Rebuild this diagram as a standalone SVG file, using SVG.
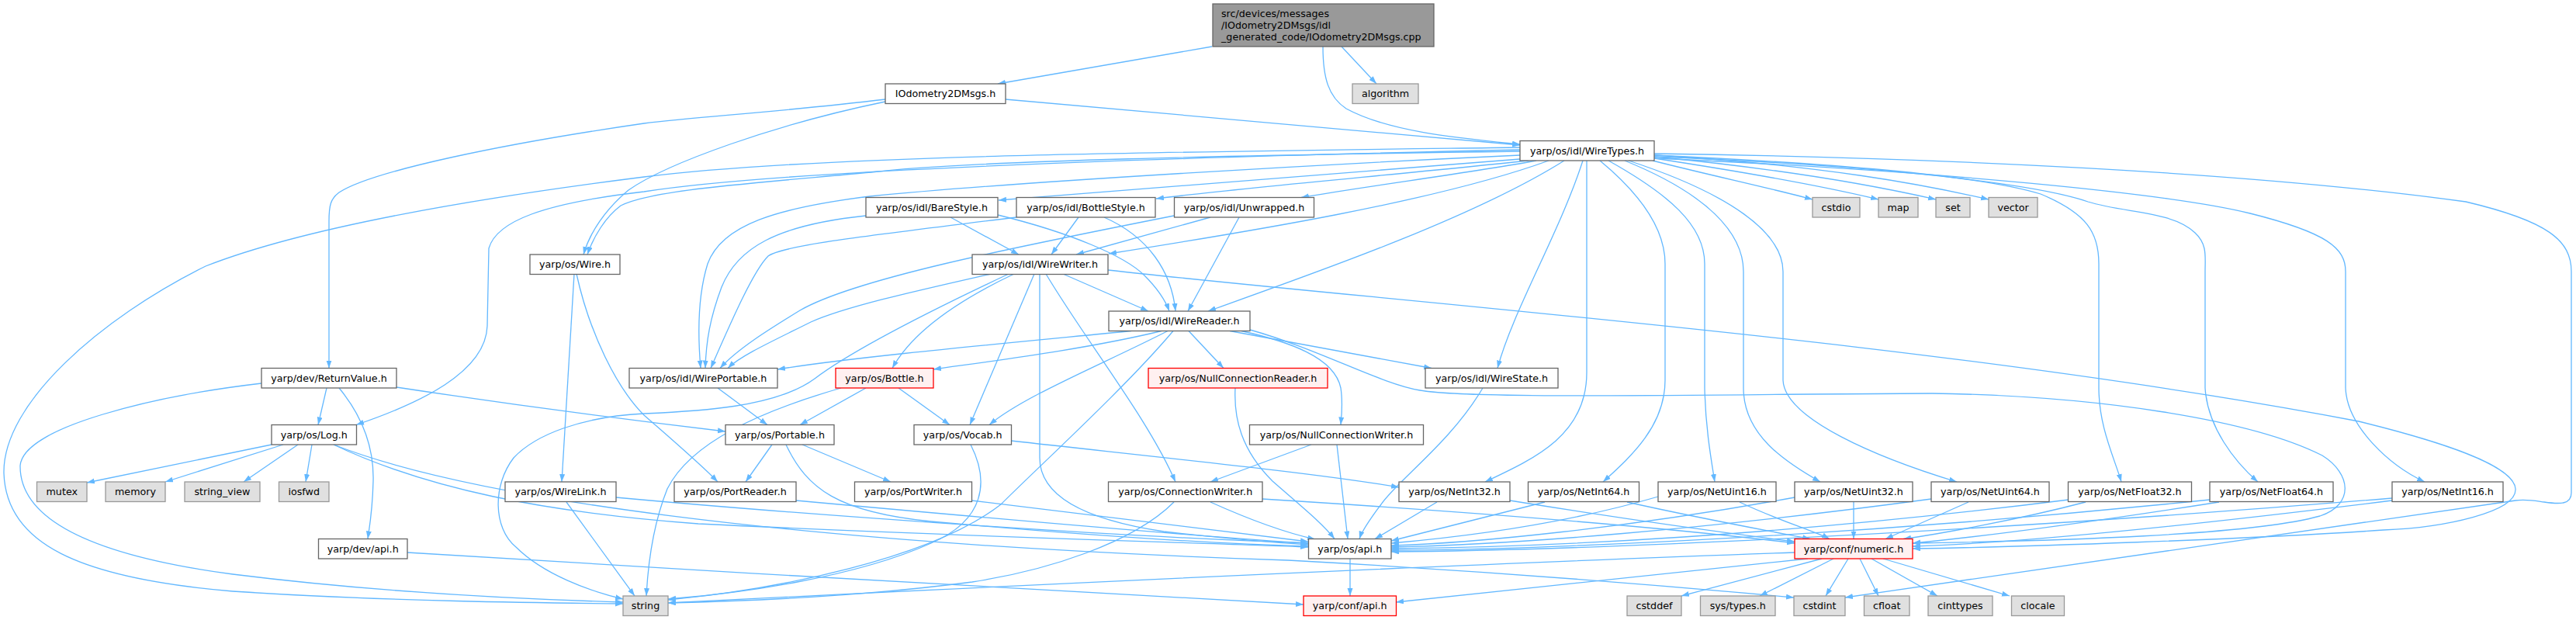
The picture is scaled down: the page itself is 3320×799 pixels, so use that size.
<svg xmlns="http://www.w3.org/2000/svg" width="3320" height="799" viewBox="0 0 3320 799">
<defs>
<style>
.e{fill:none;stroke:#63b8ff;stroke-width:1.3}
rect{stroke-width:1.3}
.n rect{fill:#ffffff;stroke:#666666}
.x rect{fill:#e0e0e0;stroke:#999999}
.r rect{fill:#fff0f0;stroke:#ff0000}
.m rect{fill:#999999;stroke:#666666}
text{font-family:"DejaVu Sans","Liberation Sans",sans-serif;font-size:12.7px;fill:#000000;text-anchor:middle}
.m text{text-anchor:start}
</style>
<marker id="a" markerUnits="userSpaceOnUse" markerWidth="11" markerHeight="8" refX="10" refY="3.5" orient="auto">
<path d="M0,0 L10,3.5 L0,7 z" fill="#63b8ff"/>
</marker>
</defs>
<rect width="3320" height="799" fill="#ffffff"/>
<g id="connectors" marker-end="url(#a)">
<path class="e" d="M1562,60 L1286,108"/>
<path class="e" d="M1729,60 L1774,108"/>
<path class="e" d="M1705,60 C1705,100 1712,125 1735,140 C1790,170 1880,178 1959,186"/>
<path class="e" d="M1296,128 L1959,187"/>
<path class="e" d="M1141,128 C1000,145 900,150 830,159 C650,185 480,220 437,248 C426,256 424,265 424,285 L424,474.5"/>
<path class="e" d="M1141,131 C1000,160 860,210 810,245 C780,270 760,300 752,328"/>
<path class="e" d="M1959,195 C1600,200 1250,207 1123,222 C950,238 840,245 800,265 C780,280 765,305 757,328"/>
<path class="e" d="M1959,190 C1500,196 1050,200 830,228 C640,252 400,290 265,343 C130,410 3,520 5,610 C8,700 100,745 300,762 C500,775 700,777 803,778"/>
<path class="e" d="M1959,193 C1500,203 1000,220 830,247 C700,262 640,285 630,320 L628,420 C626,480 540,520 459,547.5"/>
<path class="e" d="M1959,200 C1700,212 1300,235 1121,253 C1000,268 930,290 912,340 C898,385 900,440 903,474.5"/>
<path class="e" d="M1959,205 C1700,225 1450,245 1287,258"/>
<path class="e" d="M1970,207 C1800,225 1600,242 1490,256"/>
<path class="e" d="M1980,207 C1900,222 1760,240 1677,254.5"/>
<path class="e" d="M1996,207 C1850,260 1600,300 1429,327"/>
<path class="e" d="M2016,207 C1900,280 1700,350 1557,401"/>
<path class="e" d="M2040,207 C2010,300 1950,400 1930,474.5"/>
<path class="e" d="M2045,207 L2045,480 C2045,560 1980,590 1914,621"/>
<path class="e" d="M2062,207 C2120,255 2146,300 2146,340 L2146,490 C2146,550 2100,590 2066,621"/>
<path class="e" d="M2073,207 C2150,250 2197,290 2197,340 L2197,500 C2198,550 2205,590 2210,621"/>
<path class="e" d="M2094,207 C2200,250 2247,300 2247,350 L2247,500 C2247,560 2300,595 2346,621"/>
<path class="e" d="M2099,207 C2230,250 2298,300 2298,350 L2298,490 C2300,540 2420,590 2522,621"/>
<path class="e" d="M2132,200 C2350,210 2550,225 2630,250 C2690,275 2705,300 2705,340 L2705,500 C2705,550 2725,590 2734,621"/>
<path class="e" d="M2132,202 C2400,212 2620,235 2691,260 C2740,275 2800,272 2829,300 C2845,315 2842,330 2842,350 L2842,500 C2845,550 2880,595 2910,621"/>
<path class="e" d="M2132,204 C2500,220 2800,250 2900,275 C3000,300 3023,320 3023,350 L3023,500 C3025,550 3080,600 3125,621"/>
<path class="e" d="M2132,198 C2500,203 2900,222 3178,260 C3284,285 3314,310 3314,350 L3314,635 C3314,650 3300,650 3279,647 C3265,645 3255,643 3242,645 L2378,770"/>
<path class="e" d="M2130,207 C2200,225 2280,242 2336,257"/>
<path class="e" d="M2132,204 C2250,222 2350,240 2421,257"/>
<path class="e" d="M2132,202 C2300,218 2420,240 2495,257"/>
<path class="e" d="M2132,200 C2350,213 2480,238 2563,257"/>
<path class="e" d="M1225,280 L1313,328"/>
<path class="e" d="M1286,277 C1380,300 1450,330 1475,355 C1495,375 1503,390 1507,401"/>
<path class="e" d="M1116,278 C1000,290 950,320 930,370 C915,410 910,440 909,474.5"/>
<path class="e" d="M1390,280 L1355,328"/>
<path class="e" d="M1423,280 C1480,305 1510,350 1515,401"/>
<path class="e" d="M1310,280 C1150,300 1010,315 990,330 C970,350 940,420 916,474.5"/>
<path class="e" d="M1560,280 L1387,328"/>
<path class="e" d="M1597,280 L1531,401"/>
<path class="e" d="M1513,278 C1300,320 1100,360 1031,400 C990,425 950,450 928,474.5"/>
<path class="e" d="M740,353 L724,621"/>
<path class="e" d="M743,353 C760,430 795,500 830,535 C870,570 905,600 925,621"/>
<path class="e" d="M1277,353 C1180,375 1090,395 1045,415 C995,440 955,458 938,474.5"/>
<path class="e" d="M1300,353 C1200,400 1100,450 1050,488 C1000,525 900,530 830,533 C750,537 690,560 662,590 C635,625 635,680 665,705 C700,740 760,762 803,772"/>
<path class="e" d="M1307,353 C1250,380 1180,420 1150,474.5"/>
<path class="e" d="M1333,353 L1250,547.5"/>
<path class="e" d="M1340,353 L1340,590 C1340,640 1400,670 1500,685 C1580,694 1640,699 1686,702"/>
<path class="e" d="M1348,353 C1400,440 1480,540 1515,621"/>
<path class="e" d="M1370,353 L1480,401"/>
<path class="e" d="M1428,348 C1800,390 2500,440 3040,543 C3150,570 3240,600 3242,630 C3244,660 3150,680 3072,683 C2900,695 2600,705 2465,707"/>
<path class="e" d="M1458,426.5 C1300,442 1100,460 1002,476"/>
<path class="e" d="M1497,426.5 C1400,450 1280,465 1203,476"/>
<path class="e" d="M1505,426.5 C1420,470 1320,510 1275,547.5"/>
<path class="e" d="M1512,426.5 C1450,500 1340,600 1290,650 C1200,720 1000,760 861,773"/>
<path class="e" d="M1532,426.5 L1577,474.5"/>
<path class="e" d="M1585,426.5 L1845,474.5"/>
<path class="e" d="M1600,426.5 C1660,440 1720,460 1728,500 C1731,520 1729,535 1728,547.5"/>
<path class="e" d="M1611,425 C1700,450 1780,495 1830,503 C1900,515 2200,508 2490,507 C2700,510 2900,540 2993,587 C3030,610 3035,650 2990,665 C2900,690 2650,697 2465,700"/>
<path class="e" d="M421,500 L410,547.5"/>
<path class="e" d="M437,500 C470,540 482,580 481,620 C480,660 476,680 474,694.5"/>
<path class="e" d="M337,494 C200,510 30,550 26,600 C25,680 150,720 300,740 C500,765 700,773 803,776"/>
<path class="e" d="M511,499 C650,520 800,540 935,556"/>
<path class="e" d="M350,573 L112,622"/>
<path class="e" d="M365,573 L213,621"/>
<path class="e" d="M384,573 L314,621"/>
<path class="e" d="M402,573 L394,621"/>
<path class="e" d="M430,573 C550,630 700,660 900,675 C1200,690 1500,698 1686,705"/>
<path class="e" d="M430,573 C600,640 1000,700 1660,722 C1900,735 2150,755 2312,770"/>
<path class="e" d="M925,500 L989,547.5"/>
<path class="e" d="M1116,500 L1031,547.5"/>
<path class="e" d="M1158,500 L1224,547.5"/>
<path class="e" d="M1084,500 C980,530 890,570 860,630 C840,680 835,730 833,768"/>
<path class="e" d="M1592,500 C1590,540 1600,580 1640,620 C1680,655 1705,675 1720,694.5"/>
<path class="e" d="M1911,500 C1870,570 1800,620 1780,650 C1765,670 1755,685 1752,694.5"/>
<path class="e" d="M995,573 L961,621"/>
<path class="e" d="M1034,573 L1148,621"/>
<path class="e" d="M1013,573 C1040,630 1080,660 1200,672 C1400,690 1550,700 1686,704"/>
<path class="e" d="M1251,573 C1275,620 1270,670 1200,700 C1100,745 950,765 861,772"/>
<path class="e" d="M1303,568 C1500,590 1700,610 1803,628"/>
<path class="e" d="M1690,573 L1560,621"/>
<path class="e" d="M1723,573 L1737,694.5"/>
<path class="e" d="M730,647 L818,768"/>
<path class="e" d="M794,641 C1000,660 1400,690 1686,700"/>
<path class="e" d="M1026,645 C1300,670 1550,692 1686,700"/>
<path class="e" d="M1252,645 L1686,698"/>
<path class="e" d="M1513,647 C1460,700 1350,735 1253,750 C1100,770 950,775 861,777"/>
<path class="e" d="M1560,647 C1600,665 1650,685 1695,695"/>
<path class="e" d="M1627,643 C1900,660 2150,680 2313,700"/>
<path class="e" d="M1852,647 L1772,694.5"/>
<path class="e" d="M1946,645 C2100,670 2250,690 2313,698"/>
<path class="e" d="M1991,647 C1900,670 1830,688 1793,697"/>
<path class="e" d="M2097,647 C2200,670 2300,688 2333,694.5"/>
<path class="e" d="M2137,640 C2000,680 1850,695 1793,700"/>
<path class="e" d="M2242,647 C2290,670 2340,685 2358,694.5"/>
<path class="e" d="M2313,641 C2100,680 1900,700 1793,703"/>
<path class="e" d="M2389,647 L2389,694.5"/>
<path class="e" d="M2489,643 C2200,682 1950,702 1793,705"/>
<path class="e" d="M2537,647 L2430,694.5"/>
<path class="e" d="M2666,644 C2300,690 2000,705 1793,707"/>
<path class="e" d="M2688,647 C2600,670 2500,688 2453,694.5"/>
<path class="e" d="M2848,644 C2400,690 2000,708 1793,709"/>
<path class="e" d="M2860,647 C2700,672 2550,692 2465,700"/>
<path class="e" d="M3083,642 C2500,690 2000,710 1793,711"/>
<path class="e" d="M3083,645 C2800,680 2600,700 2465,704"/>
<path class="e" d="M1740,720 L1740,768"/>
<path class="e" d="M525,712 C900,735 1400,765 1680,779"/>
<path class="e" d="M2313,712 C1800,730 1200,760 861,777"/>
<path class="e" d="M2330,720 C2100,745 1900,765 1799,776"/>
<path class="e" d="M2348,720 L2167,768"/>
<path class="e" d="M2363,720 L2268,768"/>
<path class="e" d="M2382,720 L2353,768"/>
<path class="e" d="M2397,720 L2421,768"/>
<path class="e" d="M2412,720 L2497,768"/>
<path class="e" d="M2427,720 L2590,768"/>
</g>
<g id="main" class="m"><rect x="1563" y="5" width="285" height="55"/><text x="1574" y="21.5">src/devices/messages</text><text x="1574" y="36.5">/IOdometry2DMsgs/idl</text><text x="1574" y="51.5">_generated_code/IOdometry2DMsgs.cpp</text></g>
<g id="iodo" class="n"><rect x="1141" y="108" width="155" height="25.5"/><text x="1218.5" y="125.2">IOdometry2DMsgs.h</text></g>
<g id="algorithm" class="x"><rect x="1743" y="108" width="85" height="25.5"/><text x="1785.5" y="125.2">algorithm</text></g>
<g id="wiretypes" class="n"><rect x="1959" y="181.5" width="173" height="25.5"/><text x="2045.5" y="198.7">yarp/os/idl/WireTypes.h</text></g>
<g id="barestyle" class="n"><rect x="1116" y="254.5" width="170" height="25.5"/><text x="1201" y="271.7">yarp/os/idl/BareStyle.h</text></g>
<g id="bottlestyle" class="n"><rect x="1310" y="254.5" width="179" height="25.5"/><text x="1399.5" y="271.7">yarp/os/idl/BottleStyle.h</text></g>
<g id="unwrapped" class="n"><rect x="1513.5" y="254.5" width="180" height="25.5"/><text x="1603.5" y="271.7">yarp/os/idl/Unwrapped.h</text></g>
<g id="cstdio" class="x"><rect x="2336" y="254.5" width="61" height="25.5"/><text x="2366.5" y="271.7">cstdio</text></g>
<g id="map" class="x"><rect x="2421" y="254.5" width="51" height="25.5"/><text x="2446.5" y="271.7">map</text></g>
<g id="set" class="x"><rect x="2495" y="254.5" width="44" height="25.5"/><text x="2517" y="271.7">set</text></g>
<g id="vector" class="x"><rect x="2563" y="254.5" width="63" height="25.5"/><text x="2594.5" y="271.7">vector</text></g>
<g id="wire" class="n"><rect x="683" y="328" width="116" height="25.5"/><text x="741" y="345.2">yarp/os/Wire.h</text></g>
<g id="wirewriter" class="n"><rect x="1253" y="328" width="175" height="25.5"/><text x="1340.5" y="345.2">yarp/os/idl/WireWriter.h</text></g>
<g id="wirereader" class="n"><rect x="1429" y="401" width="182" height="25.5"/><text x="1520" y="418.2">yarp/os/idl/WireReader.h</text></g>
<g id="returnvalue" class="n"><rect x="337" y="474.5" width="174" height="25.5"/><text x="424" y="491.7">yarp/dev/ReturnValue.h</text></g>
<g id="wireportable" class="n"><rect x="811" y="474.5" width="191" height="25.5"/><text x="906.5" y="491.7">yarp/os/idl/WirePortable.h</text></g>
<g id="bottle" class="r"><rect x="1077" y="474.5" width="126" height="25.5"/><text x="1140" y="491.7">yarp/os/Bottle.h</text></g>
<g id="nullconnectionreader" class="r"><rect x="1480" y="474.5" width="231" height="25.5"/><text x="1595.5" y="491.7">yarp/os/NullConnectionReader.h</text></g>
<g id="wirestate" class="n"><rect x="1837" y="474.5" width="171" height="25.5"/><text x="1922.5" y="491.7">yarp/os/idl/WireState.h</text></g>
<g id="log" class="n"><rect x="350" y="547.5" width="109.5" height="25.5"/><text x="404.75" y="564.7">yarp/os/Log.h</text></g>
<g id="portable" class="n"><rect x="935" y="547.5" width="140" height="25.5"/><text x="1005" y="564.7">yarp/os/Portable.h</text></g>
<g id="vocab" class="n"><rect x="1178" y="547.5" width="125.5" height="25.5"/><text x="1240.75" y="564.7">yarp/os/Vocab.h</text></g>
<g id="nullconnectionwriter" class="n"><rect x="1610.5" y="547.5" width="224" height="25.5"/><text x="1722.5" y="564.7">yarp/os/NullConnectionWriter.h</text></g>
<g id="mutex" class="x"><rect x="47.5" y="621" width="64.5" height="25.5"/><text x="79.75" y="638.2">mutex</text></g>
<g id="memory" class="x"><rect x="136" y="621" width="77" height="25.5"/><text x="174.5" y="638.2">memory</text></g>
<g id="string_view" class="x"><rect x="238" y="621" width="97" height="25.5"/><text x="286.5" y="638.2">string_view</text></g>
<g id="iosfwd" class="x"><rect x="359.5" y="621" width="64.5" height="25.5"/><text x="391.75" y="638.2">iosfwd</text></g>
<g id="wirelink" class="n"><rect x="651" y="621" width="143" height="25.5"/><text x="722.5" y="638.2">yarp/os/WireLink.h</text></g>
<g id="portreader" class="n"><rect x="869" y="621" width="157" height="25.5"/><text x="947.5" y="638.2">yarp/os/PortReader.h</text></g>
<g id="portwriter" class="n"><rect x="1101.5" y="621" width="151" height="25.5"/><text x="1177" y="638.2">yarp/os/PortWriter.h</text></g>
<g id="connectionwriter" class="n"><rect x="1428.5" y="621" width="198.5" height="25.5"/><text x="1527.75" y="638.2">yarp/os/ConnectionWriter.h</text></g>
<g id="netint32" class="n"><rect x="1803" y="621" width="143" height="25.5"/><text x="1874.5" y="638.2">yarp/os/NetInt32.h</text></g>
<g id="netint64" class="n"><rect x="1969.5" y="621" width="143" height="25.5"/><text x="2041" y="638.2">yarp/os/NetInt64.h</text></g>
<g id="netuint16" class="n"><rect x="2137" y="621" width="152" height="25.5"/><text x="2213" y="638.2">yarp/os/NetUint16.h</text></g>
<g id="netuint32" class="n"><rect x="2313" y="621" width="152" height="25.5"/><text x="2389" y="638.2">yarp/os/NetUint32.h</text></g>
<g id="netuint64" class="n"><rect x="2489" y="621" width="152" height="25.5"/><text x="2565" y="638.2">yarp/os/NetUint64.h</text></g>
<g id="netfloat32" class="n"><rect x="2665.5" y="621" width="159" height="25.5"/><text x="2745" y="638.2">yarp/os/NetFloat32.h</text></g>
<g id="netfloat64" class="n"><rect x="2848" y="621" width="159" height="25.5"/><text x="2927.5" y="638.2">yarp/os/NetFloat64.h</text></g>
<g id="netint16" class="n"><rect x="3083" y="621" width="143" height="25.5"/><text x="3154.5" y="638.2">yarp/os/NetInt16.h</text></g>
<g id="devapi" class="n"><rect x="410.5" y="694.5" width="114.5" height="25.5"/><text x="467.75" y="711.7">yarp/dev/api.h</text></g>
<g id="osapi" class="n"><rect x="1686.5" y="694.5" width="106.5" height="25.5"/><text x="1739.75" y="711.7">yarp/os/api.h</text></g>
<g id="numeric" class="r"><rect x="2313" y="694.5" width="152" height="25.5"/><text x="2389" y="711.7">yarp/conf/numeric.h</text></g>
<g id="string" class="x"><rect x="803" y="768" width="58" height="25.5"/><text x="832" y="785.2">string</text></g>
<g id="confapi" class="r"><rect x="1680" y="768" width="119.5" height="25.5"/><text x="1739.75" y="785.2">yarp/conf/api.h</text></g>
<g id="cstddef" class="x"><rect x="2097" y="768" width="70" height="25.5"/><text x="2132" y="785.2">cstddef</text></g>
<g id="systypes" class="x"><rect x="2191.5" y="768" width="96.5" height="25.5"/><text x="2239.75" y="785.2">sys/types.h</text></g>
<g id="cstdint" class="x"><rect x="2312" y="768" width="66" height="25.5"/><text x="2345" y="785.2">cstdint</text></g>
<g id="cfloat" class="x"><rect x="2402.5" y="768" width="58.5" height="25.5"/><text x="2431.75" y="785.2">cfloat</text></g>
<g id="cinttypes" class="x"><rect x="2485" y="768" width="83" height="25.5"/><text x="2526.5" y="785.2">cinttypes</text></g>
<g id="clocale" class="x"><rect x="2592.5" y="768" width="68" height="25.5"/><text x="2626.5" y="785.2">clocale</text></g>
</svg>
